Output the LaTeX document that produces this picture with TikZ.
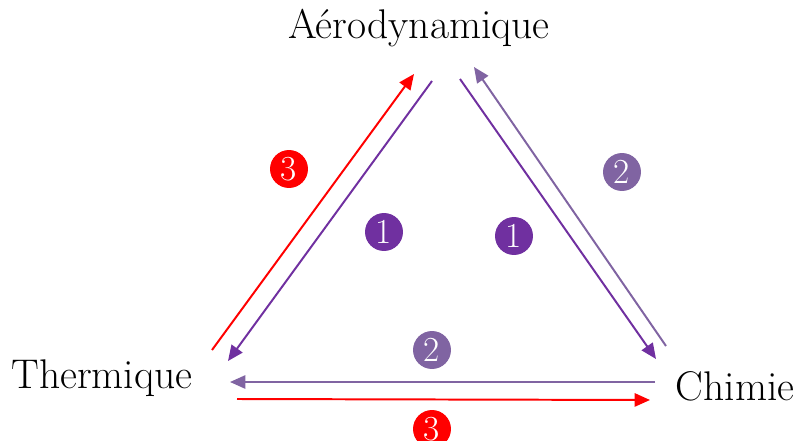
\documentclass[tikz,border=0pt]{standalone}
\usetikzlibrary{arrows.meta}
\definecolor{violetf}{HTML}{7030A0}
\definecolor{violetc}{HTML}{8064A2}
\definecolor{rouge}{HTML}{FF0000}
\tikzset{
  fleche/.style={line width=1.4pt,-{Triangle[length=11pt,width=9.5pt]}},
  pastille/.style={circle,inner sep=0pt,minimum size=27pt,text=white,font=\fontsize{25}{25}\selectfont},
  titre/.style={font=\fontsize{29.5}{34}\selectfont}
}
\begin{document}
\begin{tikzpicture}[x=0.025cm,y=-0.025cm]
  \useasboundingbox (0,0) rectangle (798,441);
  % les trois domaines
  \node[titre] (aero) at (419,28) {Aérodynamique};
  \node[titre] (therm) at (102,378) {Thermique};
  \node[titre] (chim) at (735,386) {Chimie};
  % extremites des fleches
  \coordinate (r1a) at (212,350);
  \coordinate (r1b) at (414,74);
  \coordinate (p1a) at (432,81);
  \coordinate (p1b) at (228,361);
  \coordinate (p2a) at (460,79);
  \coordinate (p2b) at (656,359);
  \coordinate (l1a) at (666,346);
  \coordinate (l1b) at (474,67);
  \coordinate (l2a) at (655,382);
  \coordinate (l2b) at (230,382);
  \coordinate (r2a) at (237,399);
  \coordinate (r2b) at (650,400);
  % fleches
  \draw[fleche,rouge] (r1a) -- (r1b);
  \draw[fleche,violetf] (p1a) -- (p1b);
  \draw[fleche,violetf] (p2a) -- (p2b);
  \draw[fleche,violetc] (l1a) -- (l1b);
  \draw[fleche,violetc] (l2a) -- (l2b);
  \draw[fleche,rouge] (r2a) -- (r2b);
  % numeros
  \node[pastille,fill=rouge] (n3a) at (289,169) {3};
  \node[pastille,fill=violetf] (n1a) at (384,232) {1};
  \node[pastille,fill=violetf] (n1b) at (514,236) {1};
  \node[pastille,fill=violetc] (n2a) at (622,172) {2};
  \node[pastille,fill=violetc] (n2b) at (432,350) {2};
  \node[pastille,fill=rouge] (n3b) at (432,429) {3};
\end{tikzpicture}
\end{document}
